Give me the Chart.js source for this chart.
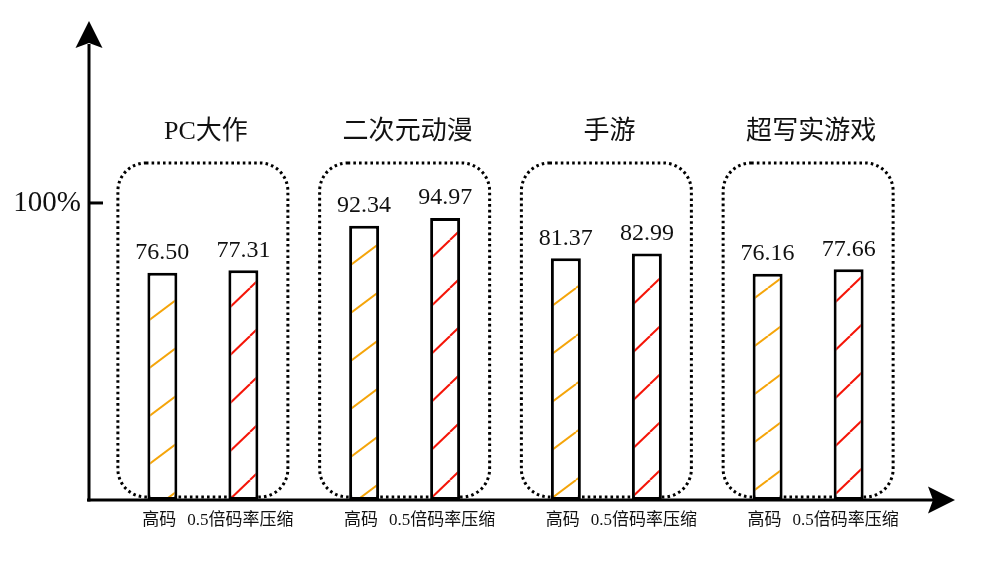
<!DOCTYPE html>
<html>
<head>
<meta charset="utf-8">
<script src="https://cdn.jsdelivr.net/npm/chart.js@4"></script>
<style>
    html, body { margin: 0; padding: 0; background: #fff; }
    #wrap { width: 984px; height: 567px; position: relative; }
</style>
</head>
<body>
<div id="wrap"><canvas id="chart"></canvas></div>
<script>
"use strict";

var groups = ["PC大作", "二次元动漫", "手游", "超写实游戏"];
var seriesNames = ["高码", "0.5倍码率压缩"];
var highValues = [76.50, 92.34, 81.37, 76.16];
var halfValues = [77.31, 94.97, 82.99, 77.66];
var yTicks = [100];

var ORANGE = "#f5a50a";
var RED = "#f51508";
var SERIF = "'Liberation Serif', 'Noto Sans CJK SC', serif";

function hatch(color, w, h) {
    var c = document.createElement("canvas");
    c.width = w;
    c.height = h;
    var g = c.getContext("2d");
    g.fillStyle = "#fff";
    g.fillRect(0, 0, w, h);
    g.strokeStyle = color;
    g.lineWidth = 2;
    for (var k = -1; k <= 1; k++) {
        g.beginPath();
        g.moveTo(k * w, h);
        g.lineTo((k + 1) * w, 0);
        g.stroke();
    }
    return g.createPattern(c, "repeat");
}

function roundRect(ctx, x, y, w, h, r) {
    ctx.beginPath();
    ctx.moveTo(x + r, y);
    ctx.lineTo(x + w - r, y);
    ctx.arcTo(x + w, y, x + w, y + r, r);
    ctx.lineTo(x + w, y + h - r);
    ctx.arcTo(x + w, y + h, x + w - r, y + h, r);
    ctx.lineTo(x + r, y + h);
    ctx.arcTo(x, y + h, x, y + h - r, r);
    ctx.lineTo(x, y + r);
    ctx.arcTo(x, y, x + r, y, r);
    ctx.closePath();
}

var decorations = {
    id: "decorations",
    beforeDatasetsDraw: function(chart) {
        var ctx = chart.ctx;
        var xs = chart.scales.x;
        ctx.save();
        ctx.strokeStyle = "#000";
        ctx.lineWidth = 3;
        ctx.setLineDash([2.6, 3.1]);
        ctx.lineCap = "butt";
        for (var i = 0; i < groups.length; i++) {
            var cx = xs.getPixelForValue(i);
            roundRect(ctx, cx - 85, 163, 170, 334, 28);
            ctx.stroke();
        }
        ctx.restore();

        ctx.save();
        ctx.fillStyle = "#111";
        ctx.font = "26px " + SERIF;
        ctx.textAlign = "center";
        ctx.textBaseline = "middle";
        for (var j = 0; j < groups.length; j++) {
            ctx.fillText(groups[j], xs.getPixelForValue(j) + 3, 132);
        }
        ctx.restore();
    },
    afterDatasetsDraw: function(chart) {
        var ctx = chart.ctx;
        var ys = chart.scales.y;
        var y0 = ys.getPixelForValue(0);
        ctx.save();
        ctx.strokeStyle = "#000";
        ctx.fillStyle = "#000";
        ctx.lineWidth = 3;

        // y axis with arrow
        ctx.beginPath();
        ctx.moveTo(89, y0 + 1.5);
        ctx.lineTo(89, 44);
        ctx.stroke();
        ctx.beginPath();
        ctx.moveTo(89, 21);
        ctx.lineTo(102.5, 48);
        ctx.lineTo(89, 43);
        ctx.lineTo(75.5, 48);
        ctx.closePath();
        ctx.fill();

        // x axis with arrow
        ctx.beginPath();
        ctx.moveTo(87, y0);
        ctx.lineTo(934, y0);
        ctx.stroke();
        ctx.beginPath();
        ctx.moveTo(955, y0);
        ctx.lineTo(928, y0 - 13.5);
        ctx.lineTo(933, y0);
        ctx.lineTo(928, y0 + 13.5);
        ctx.closePath();
        ctx.fill();

        // y ticks
        ctx.font = "29px " + SERIF;
        ctx.textAlign = "right";
        ctx.textBaseline = "middle";
        ctx.fillStyle = "#111";
        yTicks.forEach(function(v) {
            var py = ys.getPixelForValue(v);
            ctx.beginPath();
            ctx.moveTo(89, py);
            ctx.lineTo(103, py);
            ctx.stroke();
            ctx.fillText(v + "%", 81, py);
        });

        // value labels and series labels under each bar
        ctx.textAlign = "center";
        chart.data.datasets.forEach(function(ds, di) {
            var meta = chart.getDatasetMeta(di);
            meta.data.forEach(function(bar, i) {
                ctx.font = "24px " + SERIF;
                ctx.fillText(ds.data[i].toFixed(2), bar.x, bar.y - 20);
                ctx.font = "17px " + SERIF;
                ctx.fillText(seriesNames[di], bar.x - 3, 521);
            });
        });
        ctx.restore();
    }
};

new Chart(document.getElementById("chart"), {
    type: "bar",
    data: {
        labels: groups,
        datasets: [{
            label: seriesNames[0],
            data: highValues,
            backgroundColor: hatch(ORANGE, 64, 48),
            borderColor: "#000",
            borderWidth: 3,
            borderSkipped: false
        }, {
            label: seriesNames[1],
            data: halfValues,
            backgroundColor: hatch(RED, 50, 48),
            borderColor: "#000",
            borderWidth: 3,
            borderSkipped: false
        }]
    },
    options: {
        responsive: true,
        maintainAspectRatio: false,
        animation: false,
        layout: { padding: { left: 102, right: 75, top: 20, bottom: 67 } },
        plugins: {
            legend: { display: false },
            tooltip: { enabled: false }
        },
        datasets: {
            bar: { categoryPercentage: 0.803, barPercentage: 0.37 }
        },
        scales: {
            x: { display: false },
            y: { display: false, min: 0, max: 161.6 }
        }
    },
    plugins: [decorations]
});
</script>
</body>
</html>
